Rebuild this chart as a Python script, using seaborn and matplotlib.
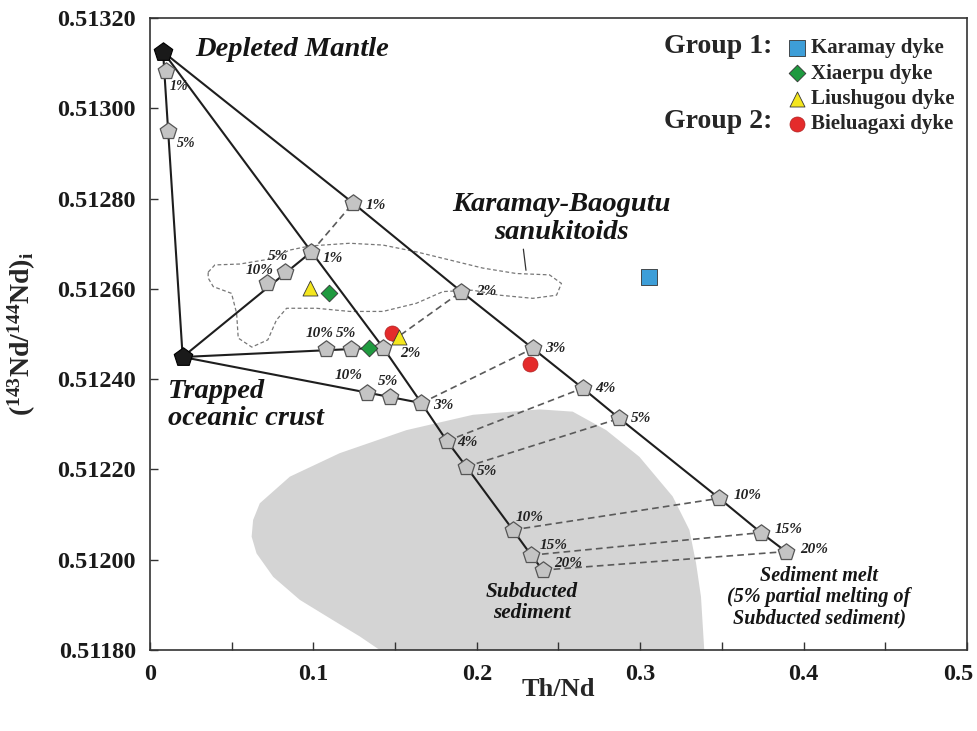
import matplotlib
matplotlib.use("Agg")
import matplotlib.pyplot as plt
import matplotlib.transforms as mtransforms
import seaborn as sns
import pandas as pd

# ---------------- data ----------------
dm_x, dm_y = [0.008], [0.513125]            # Depleted mantle
toc_x, toc_y = [0.020], [0.512449]          # Trapped oceanic crust

dmtoc_pct = [1, 5]
dmtoc_x = [0.0095, 0.0113]
dmtoc_y = [0.513083, 0.512949]

mix_pct = [1, 2, 3, 4, 5, 10, 15, 20]
ss_x = [0.0988, 0.1426, 0.1661, 0.1817, 0.1936, 0.2221, 0.2333, 0.2404]
ss_y = [0.512682, 0.512470, 0.512347, 0.512263, 0.512206, 0.512066, 0.512010, 0.511977]
sm_x = [0.1243, 0.1905, 0.2343, 0.2648, 0.2873, 0.3484, 0.3739, 0.3892]
sm_y = [0.512790, 0.512594, 0.512468, 0.512380, 0.512313, 0.512136, 0.512060, 0.512018]

toc_pct = [10, 5]
tm1_x, tm1_y = [0.0713, 0.0825], [0.512612, 0.512638]
tm2_x, tm2_y = [0.1080, 0.1233], [0.512467, 0.512467]
tm3_x, tm3_y = [0.1326, 0.1467], [0.512369, 0.512361]

karamay_x, karamay_y = [0.3056], [0.512626]
xiaerpu_x, xiaerpu_y = [0.1096, 0.1340], [0.512590, 0.512468]
liushugou_x, liushugou_y = [0.0978, 0.1524], [0.512601, 0.512494]
bieluagaxi_x, bieluagaxi_y = [0.1484, 0.2327], [0.512503, 0.512433]

field_x = [0.1406, 0.1284, 0.1120, 0.0917, 0.0754, 0.0652, 0.0622, 0.0631, 0.0672, 0.0856,
           0.1161, 0.1569, 0.1976, 0.2384, 0.2587, 0.2792, 0.2995, 0.3199, 0.3301, 0.3342,
           0.3372, 0.3392]
field_y = [0.511800, 0.511830, 0.511866, 0.511911, 0.511962, 0.512014, 0.512051, 0.512088,
           0.512125, 0.512184, 0.512236, 0.512287, 0.512321, 0.512333, 0.512328, 0.512287,
           0.512228, 0.512140, 0.512066, 0.511992, 0.511918, 0.511800]

san_x = [0.0356, 0.0397, 0.0550, 0.0733, 0.0856, 0.0978, 0.1222, 0.1426, 0.1630, 0.1834,
         0.2037, 0.2241, 0.2445, 0.2518, 0.2488, 0.2343, 0.2139, 0.1976, 0.1793, 0.1630,
         0.1426, 0.1222, 0.1019, 0.0836, 0.0774, 0.0721, 0.0623, 0.0540, 0.0530, 0.0499,
         0.0387, 0.0356, 0.0356]
san_y = [0.512637, 0.512653, 0.512655, 0.512666, 0.512686, 0.512695, 0.512701, 0.512697,
         0.512682, 0.512664, 0.512646, 0.512634, 0.512631, 0.512612, 0.512586, 0.512579,
         0.512586, 0.512597, 0.512594, 0.512568, 0.512550, 0.512550, 0.512557, 0.512557,
         0.512531, 0.512487, 0.512471, 0.512491, 0.512546, 0.512590, 0.512605, 0.512624,
         0.512637]

x_ticks = [0, 0.1, 0.2, 0.3, 0.4, 0.5]
x_ticklabels = ["0", "0.1", "0.2", "0.3", "0.4", "0.5"]
y_ticks = [0.5118, 0.5120, 0.5122, 0.5124, 0.5126, 0.5128, 0.5130, 0.5132]

# ---------------- style ----------------
sns.set_theme(style="ticks")
plt.rcParams["font.family"] = ["Liberation Serif", "DejaVu Serif"]
plt.rcParams["font.weight"] = "bold"
plt.rcParams["mathtext.fontset"] = "custom"
plt.rcParams["mathtext.bf"] = "Liberation Serif:bold"
plt.rcParams["mathtext.rm"] = "Liberation Serif:bold"

fig = plt.figure(figsize=(9.78, 7.31), dpi=100)
ax = fig.add_axes([150 / 978, 1 - 650 / 731, 817 / 978, 632 / 731])

PENT_FC = "#c4c4c4"
PENT_EC = "#555555"
LINE_C = "#1e1e1e"
DASH_C = "#5a5a5a"

# subducted sediment field
ax.fill(field_x, field_y, color="#d4d4d4", lw=0, zorder=0)

# sanukitoid outline
ax.plot(san_x, san_y, ls=(0, (3, 2)), color="#777777", lw=0.9, zorder=1)

def seg(xs, ys, **kw):
    df = pd.DataFrame({"x": xs, "y": ys})
    sns.lineplot(data=df, x="x", y="y", sort=False, estimator=None, ax=ax, **kw)

solid = dict(color=LINE_C, lw=1.5, zorder=2)
seg(dm_x + toc_x, dm_y + toc_y, **solid)
seg(dm_x + ss_x, dm_y + ss_y, **solid)
seg(dm_x + sm_x, dm_y + sm_y, **solid)
seg(toc_x + [ss_x[0]], toc_y + [ss_y[0]], **solid)
seg(toc_x + [ss_x[1]], toc_y + [ss_y[1]], **solid)
seg(toc_x + [ss_x[2]], toc_y + [ss_y[2]], **solid)
for a, b, c, d in zip(ss_x, sm_x, ss_y, sm_y):
    seg([a, b], [c, d], color=DASH_C, lw=1.2, zorder=2, dashes=(4, 2.5))

# model pentagons
pent_x = dmtoc_x + ss_x + sm_x + tm1_x + tm2_x + tm3_x
pent_y = dmtoc_y + ss_y + sm_y + tm1_y + tm2_y + tm3_y
sns.scatterplot(x=pent_x, y=pent_y, marker="p", s=12.5 ** 2, color=PENT_FC,
                edgecolor=PENT_EC, linewidth=0.9, ax=ax, zorder=3)
sns.scatterplot(x=dm_x + toc_x, y=dm_y + toc_y, marker="p", s=14 ** 2, color="#1a1a1a",
                edgecolor="#000000", linewidth=0.8, ax=ax, zorder=3)

# percent labels
pct_kw = dict(textcoords="offset pixels", ha="center", va="center",
              fontstyle="italic", fontweight="bold", color="#222222", zorder=5)
for x, y, p, off in zip(dmtoc_x, dmtoc_y, dmtoc_pct, [(13, -16), (18, -12)]):
    ax.annotate(f"{p}%", (x, y), xytext=off, fontsize=10, **pct_kw)
ss_off = [(21, -7), (27, -6), (22, -2), (21, -2), (21, -5), (17, 12), (22, 10), (25, 7)]
sm_off = [(23, -2), (25, 0), (22, 0), (23, 0), (22, 0), (28, 3), (28, 3), (28, 2)]
for x, y, p, off in zip(ss_x, ss_y, mix_pct, ss_off):
    ax.annotate(f"{p}%", (x, y), xytext=off, fontsize=11, **pct_kw)
for x, y, p, off in zip(sm_x, sm_y, mix_pct, sm_off):
    ax.annotate(f"{p}%", (x, y), xytext=off, fontsize=11, **pct_kw)
tm_off = [[(-7, 13), (-7, 15)], [(-7, 15), (-5, 15)], [(-18, 18), (-2, 15)]]
for xs, ys, offs in zip([tm1_x, tm2_x, tm3_x], [tm1_y, tm2_y, tm3_y], tm_off):
    for x, y, p, off in zip(xs, ys, toc_pct, offs):
        ax.annotate(f"{p}%", (x, y), xytext=off, fontsize=11, **pct_kw)

# samples
mk_ec = "#333333"
sns.scatterplot(x=karamay_x, y=karamay_y, marker="s", s=11 ** 2, color="#3d9ed8",
                edgecolor=mk_ec, linewidth=0.6, ax=ax, zorder=6, label="Karamay dyke")
sns.scatterplot(x=xiaerpu_x, y=xiaerpu_y, marker="D", s=8.5 ** 2, color="#1f9a3f",
                edgecolor=mk_ec, linewidth=0.6, ax=ax, zorder=6, label="Xiaerpu dyke")
sns.scatterplot(x=bieluagaxi_x, y=bieluagaxi_y, marker="o", s=10.8 ** 2, color="#e42b2b",
                edgecolor="#b02020", linewidth=0.5, ax=ax, zorder=6, label="Bieluagaxi dyke")
sns.scatterplot(x=liushugou_x, y=liushugou_y, marker="^", s=10.8 ** 2, color="#f4e61e",
                edgecolor=mk_ec, linewidth=0.6, ax=ax, zorder=7, label="Liushugou dyke")

h, l = ax.get_legend_handles_labels()
order = [l.index(n) for n in ["Karamay dyke", "Xiaerpu dyke", "Liushugou dyke", "Bieluagaxi dyke"]]
ax.legend([h[i] for i in order], [l[i] for i in order], loc="upper left",
          bbox_to_anchor=(0.7815, 0.968), frameon=False, borderpad=0, borderaxespad=0,
          handlelength=0.8, handletextpad=0.3, labelspacing=0.26,
          prop=dict(family="Liberation Serif", weight="bold", size=15))
ax.text(0.629, 0.9441, "Group 1:", transform=ax.transAxes, fontsize=20, fontweight="bold",
        ha="left", va="baseline")
ax.text(0.629, 0.8255, "Group 2:", transform=ax.transAxes, fontsize=20, fontweight="bold",
        ha="left", va="baseline")

# annotations
big = dict(fontstyle="italic", fontweight="bold", color="#151515", zorder=5)
ax.text(0.0275, 0.51313, "Depleted Mantle", ha="left", va="center", fontsize=20.5, **big)
ax.text(0.011, 0.512343, "Trapped\noceanic crust", ha="left", va="center", fontsize=20.5,
        linespacing=1.1, **big)
ax.text(0.2521, 0.512756, "Karamay-Baogutu\nsanukitoids", ha="center", va="center",
        fontsize=20.5, linespacing=1.15, **big)
ax.annotate("", xy=(0.2303, 0.512635), xytext=(0.2283, 0.512694),
            arrowprops=dict(arrowstyle="-", color="#333333", lw=0.9))
ax.text(0.2336, 0.511906, "Subducted\nsediment", ha="center", va="center", fontsize=15.3,
        linespacing=1.05, **big)
ax.text(0.4095, 0.511917, "Sediment melt\n(5% partial melting of\nSubducted sediment)",
        ha="center", va="center", fontsize=14.5, linespacing=1.1, **big)

# axes
ax.set_xlim(0, 0.5)
ax.set_ylim(0.5118, 0.5132)
ax.set_xticks(x_ticks)
ax.set_xticklabels(x_ticklabels)
ax.set_xticks([0.05, 0.15, 0.25, 0.35, 0.45], minor=True)
ax.set_yticks(y_ticks)
ax.set_yticklabels([f"{v:.5f}" for v in y_ticks])
ax.tick_params(axis="both", which="both", direction="in", length=6, width=1,
               colors="#333333", labelcolor="#1a1a1a")
ax.tick_params(axis="both", which="major", labelsize=17.5, pad=10)
for lab in ax.get_xticklabels() + ax.get_yticklabels():
    lab.set_fontweight("bold")
last = ax.get_xticklabels()[-1]
last.set_transform(last.get_transform() + mtransforms.ScaledTranslation(-9 / 100, 0, fig.dpi_scale_trans))

for sp in ax.spines.values():
    sp.set_color("#333333")
    sp.set_linewidth(1.2)

ax.set_xlabel("Th/Nd", fontsize=19, fontweight="bold")
ax.set_ylabel(r"$\mathbf{(^{143}Nd/^{144}Nd)_{i}}$", fontsize=20)
ax.xaxis.set_label_coords(0.5, -0.044)
ax.yaxis.set_label_coords(-0.1366, 0.5)

fig.savefig("out.png", dpi=100, facecolor="white")
